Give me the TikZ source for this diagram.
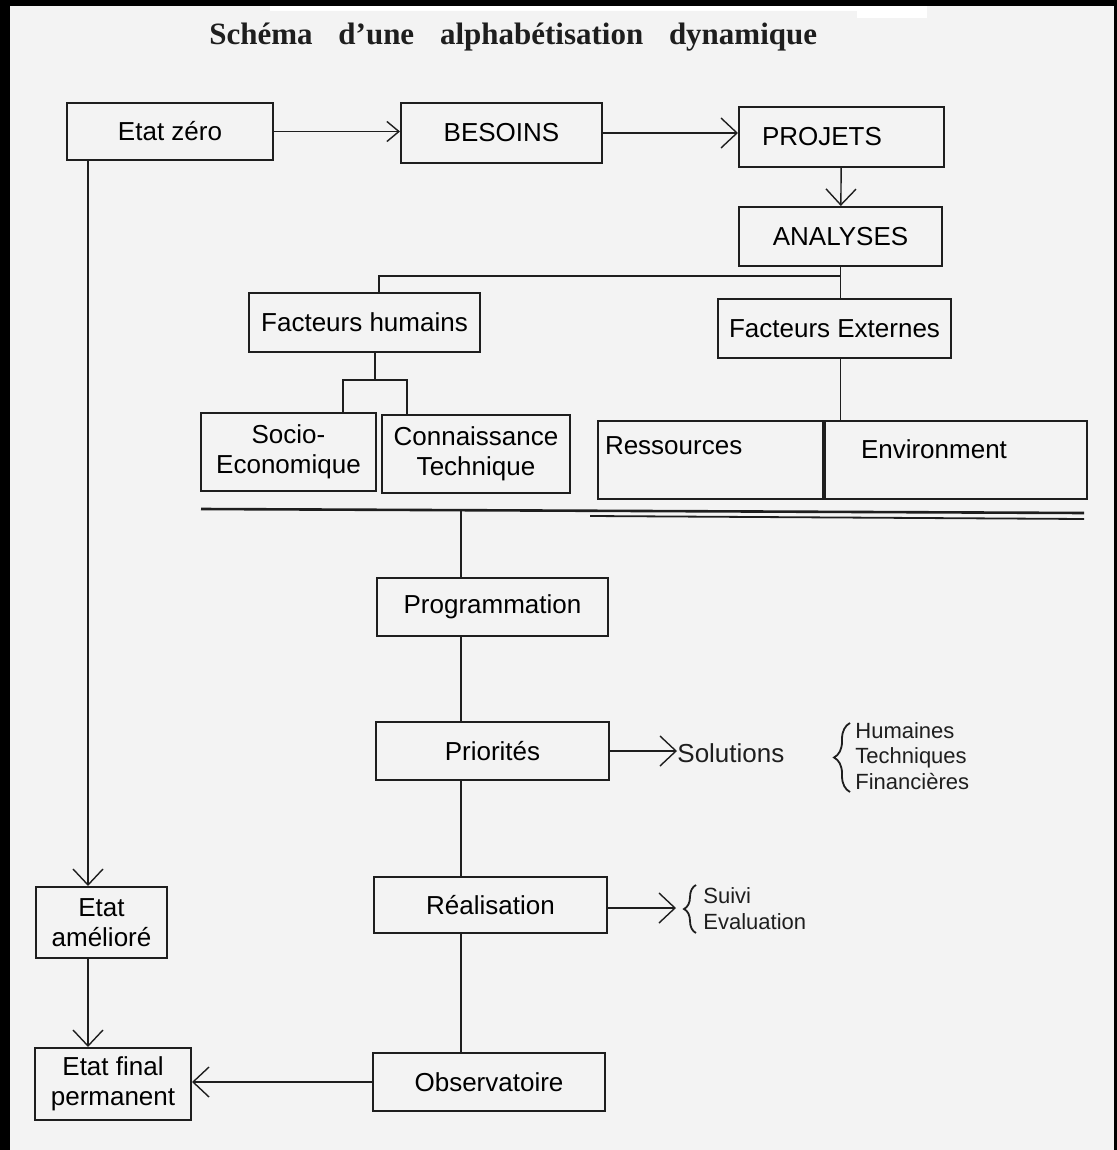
\documentclass[tikz,border=0pt]{standalone}
\usepackage{fontspec}
\setmainfont{Liberation Sans}
\newfontfamily\titlefont{Liberation Serif}
\usepackage{tikz}
\usetikzlibrary{arrows.meta, positioning, decorations.pathreplacing}

\definecolor{paper}{RGB}{243,243,243}
\definecolor{ink}{RGB}{30,30,30}
\newcommand{\boxfont}{\fontsize{13}{15}\selectfont}
\newcommand{\notefont}{\fontsize{11}{12.75}\selectfont}

\begin{document}
\begin{tikzpicture}[x=0.5pt, y=-0.5pt,
    box/.style={draw=ink, line width=1pt, minimum width=#1, inner sep=3pt,
                align=center, font=\boxfont},
    box/.default=100pt,
    arrow/.style={-{Straight Barb[length=8pt,width=15pt]}, line width=0.7pt, draw=ink},
    link/.style={line width=0.7pt, draw=ink},
    note/.style={anchor=base west, inner sep=0pt, font=\notefont, text=ink},
    curly/.style={decorate, decoration={brace, amplitude=#1}, line width=0.9pt, draw=ink}
]
\useasboundingbox (0,0) rectangle (1117,1150);
% paper and frame
\fill[paper] (0,0) rectangle (1117,1150);
\fill[white] (270,6) rectangle (927,11);
\fill[white] (857,6) rectangle (927,18);
\fill[black] (0,0) rectangle (10,1150);
\fill[black] (0,0) rectangle (1117,6);
\fill[black] (1114,0) rectangle (1117,1150);

% title
\node[anchor=base west, inner sep=0pt, text=ink,
      font=\titlefont\bfseries\fontsize{15.5}{18}\selectfont] (title) at (209,45)
      {Schéma\hspace{9pt} d’une\hspace{9pt} alphabétisation\hspace{9pt} dynamique};

% top row
\node[box=103pt, minimum height=28.5pt] (etat0)    at (170,131.5) {Etat zéro};
\node[box=100.5pt, minimum height=30pt] (besoins)  at (501.5,133) {BESOINS};
\node[box=102.5pt, minimum height=30pt, align=left, text width=79.5pt,
      inner xsep=11.5pt] (projets) at (841.5,137) {PROJETS};
\node[box=101.5pt, minimum height=29.5pt] (analyses) at (840.5,236.5) {ANALYSES};

% factors
\node[box=115.5pt, minimum height=29.5pt] (fhum) at (364.5,322.5) {Facteurs humains};
\node[box=116.5pt, minimum height=29.5pt] (fext) at (834.5,328.5) {Facteurs Externes};
\node[box=87.5pt, minimum height=39pt] (socio) at (288.5,452) {Socio-\\Economique};
\node[box=94pt, minimum height=39pt]   (conn)  at (476,454) {Connaissance\\Technique};
\node[box=112.5pt, minimum height=39pt, anchor=north west, align=left,
      text width=105.5pt, text height=13pt, text depth=19pt] (ress) at (597,420) {Ressources};
\node[box=131pt, minimum height=39pt, anchor=north west, align=left, inner xsep=18pt,
      text width=95pt, text height=15pt, text depth=17pt] (env) at (ress.north east) {Environment};

% action chain
\node[box=115.5pt, minimum height=29pt] (prog) at (492.5,607) {Programmation};
\node[box=116.5pt, minimum height=29pt] (prio) at (492.5,751) {Priorités};
\node[box=116.5pt, minimum height=28pt] (real) at (490.5,905) {Réalisation};
\node[box=116pt, minimum height=29pt]   (obs)  at (489,1082) {Observatoire};

% states
\node[box=65.5pt, minimum height=35.5pt] (etatam)  at (101.5,922.5) {Etat\\amélioré};
\node[box=78pt, minimum height=36pt]     (etatfin) at (113,1084) {Etat final\\permanent};

% side notes
\node[anchor=base west, inner sep=0pt, font=\fontsize{13}{15}\selectfont, text=ink]
      (sol) at (677,762) {Solutions};
\node[note] (hum)  at (855,738) {Humaines};
\node[note] (tech) at (855,763) {Techniques};
\node[note] (fin)  at (855,789) {Financières};
\node[note] (suivi) at (703,903) {Suivi};
\node[note] (eval)  at (703,929) {Evaluation};

\coordinate (lft)   at (88,0);
\coordinate (jA)    at (379,276);
\coordinate (jS)    at (343,380);
\coordinate (jC)    at (407,380);
\coordinate (spine) at (461,511);
\coordinate (bS)    at (676,908);

% arrows
\draw[arrow, -{Straight Barb[length=6pt,width=10pt]}] (etat0.east) -- (besoins.west |- etat0.east);
\draw[arrow] (besoins.east) -- (projets.west |- besoins.east);
\draw[arrow] (projets) -- (analyses);
\draw[arrow] (etat0.south -| lft) -- (etatam.north -| lft);
\draw[arrow] (etatam.south -| lft) -- (etatfin.north -| lft);
\draw[arrow] (obs.west) -- (etatfin.east |- obs.west);
\draw[arrow] (prio.east) -- (sol.west |- prio.east);
\draw[arrow] (real.east |- bS) -- (bS);

% tree lines
\draw[link] (analyses.south) |- (jA) -- (jA |- fhum.north);
\draw[link] (analyses.south) -- (analyses.south |- fext.north);
\draw[link] (fhum.south -| 375,0) -- (375,380);
\draw[link] (socio.north -| jS) -- (jS) -- (jC) -- (conn.north -| jC);
\draw[link] (analyses.south |- fext.south) -- (analyses.south |- env.north);

% separator
\draw[line width=1.3pt, ink] (201,509) -- (1084,513);
\draw[line width=0.9pt, ink] (590,516) -- (1084,519);

\draw[link] (spine) -- (spine |- prog.north);
\draw[link] (prog.south -| spine) -- (prio.north -| spine);
\draw[link] (prio.south -| spine) -- (real.north -| spine);
\draw[link] (real.south -| spine) -- (obs.north -| spine);

% braces
\draw[curly=8pt] (850,792) -- (850,723);
\draw[curly=6pt] (696,933) -- (696,885);
\end{tikzpicture}
\end{document}
